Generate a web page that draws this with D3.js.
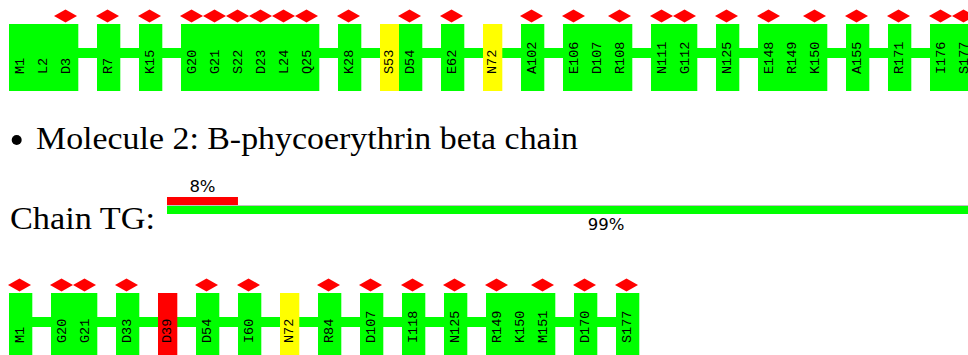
<!DOCTYPE html>
<html>
<head>
<meta charset="utf-8">
<script src="https://cdn.jsdelivr.net/npm/d3@7"></script>
<style>
  html, body { margin: 0; padding: 0; background: #fff; }
  svg { display: block; }
</style>
</head>
<body>
<div id="chart"></div>
<script>
// top strip (end of molecule 1, chain continues past the right edge)
const row1Labels = ["M1","L2","D3","R7","K15","G20","G21","S22","D23","L24","Q25","K28","S53","D54","E62","N72",
                    "A102","E106","D107","R108","N111","G112","N125","E148","R149","K150","A155","R171","I176","S177"];
const row1Yellow = ["S53","N72"];
const row1Red = [];
const row1Outliers = ["D3","R7","K15","G20","G21","S22","D23","L24","Q25","K28","D54","E62","A102","E106","R108",
                      "N111","G112","N125","E148","K150","A155","R171","I176","S177"];

// molecule 2, chain TG
const moleculeTitle = "Molecule 2: B-phycoerythrin beta chain";
const chainName = "TG";
const chainPercents = [8, 99];   // red (outliers), green (quality)

const row2Labels = ["M1","G20","G21","D33","D39","D54","I60","N72","R84","D107","I118","N125","R149","K150","M151","D170","S177"];
const row2Yellow = ["N72"];
const row2Red = ["D39"];
const row2Outliers = ["M1","G20","G21","D33","D54","I60","R84","D107","I118","N125","R149","M151","D170","S177"];

const W = 968, H = 355;
const colors = { green: "#00ff00", yellow: "#ffff00", red: "#ff0000" };

const svg = d3.select("#chart").append("svg")
  .attr("width", W)
  .attr("height", H);

// one green residue = 1 unit; flagged residues and breaks are narrower
const narrowU = 19 / 23, gapU = 19 / 23;
const x = d3.scaleLinear().domain([0, 1]).range([9, 32]);

function layoutRow(labels, yellow, red) {
  let u = 0, prev = null;
  return labels.map(lab => {
    const num = +lab.slice(1);
    if (prev !== null && num !== prev + 1) u += gapU;
    const q = red.includes(lab) ? "red" : yellow.includes(lab) ? "yellow" : "green";
    const w = q === "green" ? 1 : narrowU;
    const d = { label: lab, q, u0: u, u1: u + w };
    u += w;
    prev = num;
    return d;
  });
}

function drawRow(labels, yellow, red, outliers, top) {
  const res = layoutRow(labels, yellow, red);
  const g = svg.append("g");
  const boxH = 67;

  // backbone
  g.append("rect")
    .attr("x", x(res[0].u0))
    .attr("y", top + 24)
    .attr("width", x(res[res.length - 1].u1) - x(res[0].u0))
    .attr("height", 10)
    .attr("fill", colors.green);

  g.selectAll("rect.res")
    .data(res)
    .enter().append("rect")
    .attr("class", "res")
    .attr("x", d => x(d.u0))
    .attr("y", top)
    .attr("width", d => x(d.u1) - x(d.u0) + 0.3)
    .attr("height", boxH)
    .attr("fill", d => colors[d.q]);

  // outlier diamonds
  g.selectAll("path.dia")
    .data(res.filter(d => outliers.includes(d.label)))
    .enter().append("path")
    .attr("class", "dia")
    .attr("d", d => {
      const cx = x((d.u0 + d.u1) / 2) - 1, cy = top - 8;
      return `M${cx - 11.5},${cy}L${cx},${cy - 6.5}L${cx + 11.5},${cy}L${cx},${cy + 6.5}Z`;
    })
    .attr("fill", colors.red);

  g.selectAll("text.lab")
    .data(res)
    .enter().append("text")
    .attr("class", "lab")
    .attr("transform", d => `translate(${x((d.u0 + d.u1) / 2)},${top + 50}) rotate(-90)`)
    .attr("dominant-baseline", "central")
    .attr("font-family", "'Liberation Mono', 'Courier New', monospace")
    .attr("font-size", 13.5)
    .attr("fill", "#000")
    .text(d => d.label);
}

drawRow(row1Labels, row1Yellow, row1Red, row1Outliers, 24);

// molecule title
svg.append("circle")
  .attr("cx", 16.7).attr("cy", 140).attr("r", 5)
  .attr("fill", "#000");
svg.append("text")
  .attr("x", 36)
  .attr("y", 149)
  .attr("font-family", "'Liberation Serif', 'Times New Roman', serif")
  .attr("font-size", 32)
  .attr("textLength", 542)
  .attr("lengthAdjust", "spacingAndGlyphs")
  .attr("fill", "#000")
  .text(moleculeTitle);

svg.append("text")
  .attr("x", 10)
  .attr("y", 229)
  .attr("font-family", "'Liberation Serif', 'Times New Roman', serif")
  .attr("font-size", 32)
  .attr("textLength", 145)
  .attr("lengthAdjust", "spacingAndGlyphs")
  .attr("fill", "#000")
  .text(`Chain ${chainName}:`);

// chain summary bar (runs past the right edge)
const px = d3.scaleLinear().domain([0, 100]).range([167, 167 + 887]);
const [redPct, greenPct] = chainPercents;

svg.append("rect")
  .attr("x", px(0)).attr("y", 205)
  .attr("width", px(100) - px(0)).attr("height", 9)
  .attr("fill", "#c0c0c0");
svg.append("rect")
  .attr("x", px(0)).attr("y", 206)
  .attr("width", px(greenPct) - px(0)).attr("height", 8)
  .attr("fill", colors.green);
svg.append("rect")
  .attr("x", px(0)).attr("y", 197)
  .attr("width", px(redPct) - px(0)).attr("height", 8)
  .attr("fill", colors.red);

svg.append("text")
  .attr("x", px(redPct / 2))
  .attr("y", 192)
  .attr("text-anchor", "middle")
  .attr("font-family", "'DejaVu Sans', sans-serif")
  .attr("font-size", 16.5)
  .text(`${redPct}%`);
svg.append("text")
  .attr("x", px(greenPct / 2))
  .attr("y", 230)
  .attr("text-anchor", "middle")
  .attr("font-family", "'DejaVu Sans', sans-serif")
  .attr("font-size", 16.5)
  .text(`${greenPct}%`);

drawRow(row2Labels, row2Yellow, row2Red, row2Outliers, 293);
</script>
</body>
</html>
